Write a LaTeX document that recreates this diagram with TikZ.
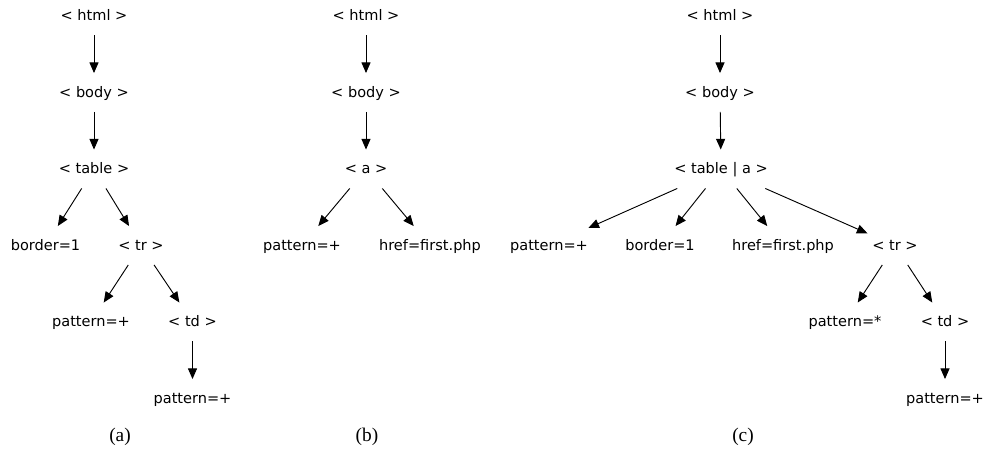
\documentclass[tikz,border=0pt]{standalone}
\usepackage{fontspec}
\usepackage{tikz}
\usetikzlibrary{arrows.meta, positioning}

\newfontfamily\tagfont{DejaVu Sans}
\newfontfamily\subfont{Liberation Serif}

\begin{document}
\begin{tikzpicture}[
    x=0.75pt, y=0.75pt,
    >={Triangle[length=8pt, width=6.8pt]},
    line width=0.7pt,
    tag/.style={font=\tagfont\fontsize{10.9}{13}\selectfont, inner sep=0pt,
        text height=0.76em, text depth=0.04em,
        minimum height=28.5pt, minimum width=40.5pt},
    sublabel/.style={font=\subfont\fontsize{14.5}{17}\selectfont}
]

\useasboundingbox (0,0) rectangle (987,-449);

% =========================================================
% (a): nested table
% =========================================================
\node[tag] (a-html)   at (94,-16)     {< html >};
\node[tag] (a-body)   at (94,-92.5)   {< body >};
\node[tag] (a-table)  at (94,-169)    {< table >};
\node[tag] (a-border) at (45.5,-245.5) {border=1};
\node[tag] (a-tr)     at (141,-245.5) {< tr >};
\node[tag] (a-pat)    at (91,-322)    {pattern=+};
\node[tag] (a-td)     at (192.5,-322) {< td >};
\node[tag] (a-tdpat)  at (192.5,-398.5) {pattern=+};

\draw[->] (a-html) -- (a-body);
\draw[->] (a-body) -- (a-table);
\draw[->] (a-table) -- (a-border);
\draw[->] (a-table) -- (a-tr);
\draw[->] (a-tr) -- (a-pat);
\draw[->] (a-tr) -- (a-td);
\draw[->] (a-td) -- (a-tdpat);

\node[sublabel] (a-cap) at (120,-437) {(a)};

% =========================================================
% (b): link
% =========================================================
\node[tag] (b-html) at (366,-16)    {< html >};
\node[tag] (b-body) at (366,-92.5)  {< body >};
\node[tag] (b-a)    at (366,-169)   {< a >};
\node[tag] (b-pat)  at (302,-245.5) {pattern=+};
\node[tag] (b-href) at (430,-245.5) {href=first.php};

\draw[->] (b-html) -- (b-body);
\draw[->] (b-body) -- (b-a);
\draw[->] (b-a) -- (b-pat);
\draw[->] (b-a) -- (b-href);

\node[sublabel] (b-cap) at (367,-437) {(b)};

% =========================================================
% (c): merged tree
% =========================================================
\node[tag] (c-html)   at (720,-16)    {< html >};
\node[tag] (c-body)   at (720,-92.5)  {< body >};
\node[tag] (c-ta)     at (721,-169)   {< table | a >};
\node[tag] (c-pat)    at (549,-245.5) {pattern=+};
\node[tag] (c-border) at (660,-245.5) {border=1};
\node[tag] (c-href)   at (783,-245.5) {href=first.php};
\node[tag] (c-tr)     at (895,-245.5) {< tr >};
\node[tag] (c-star)   at (845,-322)   {pattern=*};
\node[tag] (c-td)     at (945,-322)   {< td >};
\node[tag] (c-tdpat)  at (945,-398.5) {pattern=+};

\draw[->] (c-html) -- (c-body);
\draw[->] (c-body) -- (c-ta);
\draw[->] (c-ta) -- (c-pat);
\draw[->] (c-ta) -- (c-border);
\draw[->] (c-ta) -- (c-href);
\draw[->] (c-ta) -- (c-tr);
\draw[->] (c-tr) -- (c-star);
\draw[->] (c-tr) -- (c-td);
\draw[->] (c-td) -- (c-tdpat);

\node[sublabel] (c-cap) at (743,-437) {(c)};

\end{tikzpicture}
\end{document}
